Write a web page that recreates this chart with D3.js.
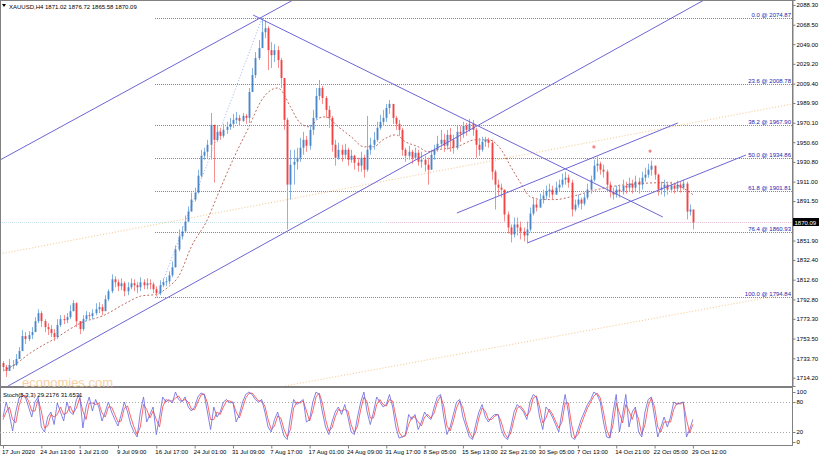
<!DOCTYPE html>
<html><head><meta charset="utf-8">
<script src="https://cdn.jsdelivr.net/npm/d3@7/dist/d3.min.js"></script>
<style>
html,body{margin:0;padding:0;background:#fff;}
svg{display:block;font-family:"Liberation Sans",Arial,sans-serif;}
</style></head>
<body><svg id="c" width="820" height="456"></svg>
<script>
// ---------- DATA ----------
const symbol = "XAUUSD,H4";
const lastBar = {open:1871.02, high:1876.72, low:1865.58, close:1870.09};
const firstOpen = 1729;
const closes = [
1725,1721,1727,1727,1733,1741,1756,1753,1757,1760,
1771,1779,1771,1765,1763,1759,1755,1767,1773,1772,
1775,1781,1789,1771,1763,1773,1777,1776,1779,1783,
1785,1781,1793,1801,1813,1810,1806,1809,1801,1805,
1809,1807,1805,1810,1807,1809,1808,1803,1799,1807,
1810,1811,1817,1825,1843,1856,1861,1871,1881,1893,
1900,1917,1937,1941,1948,1968,1953,1961,1957,1963,
1966,1969,1973,1975,1972,1977,1975,2001,2018,2035,
2045,2061,2065,2043,2038,2043,2033,2015,1973,1908,
1928,1931,1935,1945,1953,1947,1963,1975,1997,2005,
1995,1983,1975,1948,1935,1943,1938,1943,1933,1937,
1930,1927,1935,1923,1943,1948,1953,1965,1971,1975,
1985,1989,1975,1969,1963,1943,1937,1941,1935,1940,
1931,1933,1928,1923,1938,1943,1949,1953,1947,1958,
1953,1945,1961,1959,1967,1963,1969,1963,1948,1943,
1951,1953,1950,1921,1908,1905,1903,1878,1865,1858,
1868,1865,1861,1857,1863,1879,1888,1885,1893,1897,
1901,1903,1898,1905,1908,1913,1915,1910,1883,1888,
1893,1889,1895,1903,1913,1927,1929,1923,1921,1908,
1901,1898,1903,1901,1907,1905,1909,1905,1911,1908,
1915,1918,1923,1927,1918,1903,1905,1908,1903,1907,
1904,1908,1905,1909,1881,1883,1870.09];
const highs = [
1731,1727,1733,1732,1738,1745,1762,1760,1761,1765,
1775,1783,1781,1773,1769,1767,1763,1773,1777,1777,
1779,1787,1792,1790,1771,1777,1781,1780,1783,1789,
1790,1788,1797,1803,1818,1816,1813,1814,1811,1810,
1814,1813,1810,1815,1813,1814,1813,1810,1806,1812,
1814,1815,1821,1831,1847,1863,1866,1877,1886,1900,
1905,1923,1943,1945,1953,1980,1968,1967,1965,1969,
1971,1975,1979,1981,1978,1980,1979,2005,2025,2041,
2053,2075,2073,2067,2051,2049,2047,2035,2013,1975,
1943,1943,1945,1955,1961,1957,1968,1983,2005,2013,
2007,1997,1987,1977,1953,1950,1948,1949,1945,1943,
1938,1935,1941,1938,1977,1955,1961,1971,1978,1983,
1989,1993,1987,1977,1973,1965,1945,1947,1943,1945,
1943,1941,1937,1935,1943,1948,1957,1963,1959,1963,
1965,1958,1967,1967,1971,1970,1974,1973,1965,1955,
1956,1956,1955,1953,1923,1913,1909,1898,1881,1868,
1875,1875,1871,1865,1871,1885,1895,1893,1899,1903,
1907,1909,1907,1911,1913,1919,1921,1918,1913,1893,
1898,1895,1899,1909,1917,1933,1936,1931,1928,1923,
1911,1905,1907,1908,1913,1911,1915,1913,1917,1915,
1921,1925,1929,1932,1927,1919,1911,1913,1911,1911,
1910,1912,1911,1913,1911,1888,1878];
const lows = [
1721,1715,1721,1723,1726,1735,1743,1748,1751,1753,
1763,1769,1765,1760,1757,1755,1751,1753,1765,1768,
1769,1773,1781,1765,1758,1761,1771,1772,1773,1777,
1779,1777,1781,1791,1799,1805,1801,1802,1796,1797,
1803,1801,1799,1801,1803,1803,1803,1799,1796,1797,
1805,1806,1808,1815,1825,1841,1853,1861,1871,1881,
1891,1899,1915,1933,1935,1933,1910,1951,1953,1955,
1959,1963,1965,1969,1967,1971,1969,1970,2001,2015,
2033,2045,2055,2023,2025,2031,2025,2005,1963,1863,
1893,1908,1923,1931,1938,1941,1943,1958,1973,1993,
1989,1975,1965,1941,1927,1933,1931,1935,1927,1930,
1923,1921,1921,1915,1921,1938,1943,1951,1963,1967,
1971,1979,1969,1963,1957,1937,1931,1933,1929,1933,
1927,1925,1921,1908,1925,1933,1941,1945,1941,1943,
1941,1939,1943,1951,1955,1957,1961,1957,1935,1937,
1941,1946,1945,1913,1883,1897,1895,1871,1859,1850,
1855,1857,1853,1851,1850,1861,1877,1881,1885,1889,
1893,1895,1893,1899,1901,1905,1908,1905,1876,1881,
1885,1883,1887,1893,1899,1911,1921,1918,1915,1901,
1895,1893,1895,1895,1898,1899,1901,1899,1901,1899,
1903,1911,1915,1917,1913,1897,1898,1896,1898,1900,
1899,1901,1900,1903,1873,1877,1863];

// moving average (sampled along the chart)
const maIdx = [0,3,9,16,25,31,39,43,48,52,55,59,64,67,72,77,81,86,87,90,93,96,99,101,105,109,113,116,119,123,126,130,133,136,142,148,152,156,159,162,165,169,173,178,186,195,208,216];
const maVal = [1721,1726,1740,1753,1770,1776,1790,1796,1798,1806,1816,1846,1873,1896,1933,1966,1993,2005,2003,1986,1970,1966,1975,1976,1966,1956,1946,1946,1953,1958,1951,1946,1941,1943,1946,1953,1953,1943,1926,1910,1896,1893,1893,1896,1903,1908,1910,1898];

// stochastic
const stochMain = [
50,80,55,22,60,88,95,90,70,50, 80,90,30,20,50,60,35,78,60,42,
80,60,55,85,95,28,70,90,62,85, 70,42,60,80,60,45,32,55,80,60,
35,20,10,60,90,40,55,70,15,50, 90,80,85,78,100,85,80,90,70,62,
70,90,98,95,60,25,70,50,60,80, 85,78,80,40,55,80,95,100,95,85,
80,85,60,30,20,45,60,35,12,5, 50,85,75,80,85,40,45,80,100,95,
60,30,15,40,60,70,55,75,50,20, 15,50,80,100,60,35,60,90,80,70,
75,95,70,30,8,10,15,55,45,55, 25,40,60,50,45,70,90,95,50,15,
30,55,80,85,50,30,10,5,35,60, 75,50,40,50,55,55,25,10,5,30,
60,75,68,60,45,80,95,90,50,25, 70,62,50,35,20,60,95,60,10,5,
25,45,60,75,85,100,95,80,40,10, 8,60,95,20,55,95,30,60,70,20,
10,60,85,90,50,10,30,50,30,50, 80,75,78,80,10,25,45];
const stochSignal = [
45,60,70,45,38,72,92,93,82,62, 62,85,62,28,32,55,50,55,70,55,
58,72,58,68,88,62,45,78,78,75, 78,58,50,70,70,55,40,42,68,72,
50,30,15,30,75,65,48,62,45,30, 70,85,82,82,88,92,82,85,80,66,
65,80,94,96,78,45,45,60,55,70, 82,82,79,60,48,68,88,97,98,90,
82,82,72,45,25,32,52,48,25,10, 25,68,80,78,82,62,42,62,90,98,
78,45,22,28,50,65,62,65,62,35, 18,32,65,90,80,48,48,75,85,75,
72,85,82,50,20,10,12,35,50,50, 40,32,50,55,48,58,80,92,72,32,
22,42,68,82,68,40,20,8,20,48, 68,62,45,45,52,55,40,18,8,18,
45,68,72,64,52,62,88,92,70,38, 48,66,56,42,28,40,78,78,35,8,
15,35,52,68,80,92,98,88,60,25, 9,35,78,58,38,75,62,45,65,45,
15,35,72,88,70,30,20,40,40,40, 65,78,76,79,45,18,35];
const stochLabel = "Stoch(5,3,3) 29.2176 31.6531";
const stochLevels = [80,20];
const stochTicks = [100,80,20,0];

// axes
const priceTicks = [2088.30,2068.50,2049.00,2029.20,2009.40,1989.90,1970.10,1950.60,1930.80,1911.00,1891.50,1851.90,1832.40,1812.60,1792.80,1773.30,1753.50,1733.70,1714.20];
const timeTickIdx = [0,12,24,36,48,60,72,84,96,108,120,132,144,156,168,180,192,204,216];
const timeLabels = ["17 Jun 2020","24 Jun 13:00","1 Jul 21:00","9 Jul 09:00","16 Jul 17:00","24 Jul 01:00","31 Jul 09:00","7 Aug 17:00","17 Aug 01:00","24 Aug 09:00","31 Aug 17:00","8 Sep 05:00","15 Sep 13:00","22 Sep 21:00","30 Sep 05:00","7 Oct 13:00","14 Oct 21:00","22 Oct 05:00","29 Oct 12:00"];

// Fibonacci retracement (anchored low -> high)
const fibLevels = [0.0,23.6,38.2,50.0,61.8,76.4,100.0];
const fibPrices = [2074.87,2008.78,1967.90,1934.86,1901.81,1860.93,1794.84];
const fibStartIdx = 47.6;
const fibAnchor = [{i:48.2,p:1794.84},{i:81.1,p:2074.87}];

// trend lines (bar index, price)
const trendLines = [
  [{i:-1,p:1932.6},{i:91,p:2093.6}],
  [{i:1.6,p:1705.9},{i:219.5,p:2093.3}],
  [{i:78.3,p:2078.2},{i:206.6,p:1875.5}],
  [{i:142.1,p:1879.5},{i:211.3,p:1969.9}],
  [{i:164.1,p:1849.4},{i:232.6,p:1937.7}]
];
const orangeLines = [
  [{i:-1,p:1838.4},{i:247,p:1988.9}],
  [{i:88.3,p:1705.9},{i:247,p:1799.2}]
];
const markers = [{i:185,p:1945.8},{i:202.6,p:1941.7}];

// ---------- DRAW ----------
const svg = d3.select("#c");
const PR = 792, PB = 386, ST = 387.5, SB = 445.5;
const FS = 6;
const x = d3.scaleLinear().domain([0,216]).range([3,692.9]);
const y = d3.scaleLinear().domain([1705.9,2093.3]).range([PB,0]);
const ys = d3.scaleLinear().domain([0,100]).range([442,392]);

svg.append("rect").attr("width",820).attr("height",456).attr("fill","#fff");
const defs = svg.append("defs");
defs.append("clipPath").attr("id","clipMain").append("rect").attr("x",0).attr("y",0).attr("width",PR).attr("height",PB);
defs.append("clipPath").attr("id","clipSt").append("rect").attr("x",0).attr("y",ST).attr("width",PR).attr("height",SB-ST);

const main = svg.append("g").attr("clip-path","url(#clipMain)");

// fib lines
fibPrices.forEach((p,k)=>{
  const yy = Math.round(y(p))+0.5;
  main.append("line").attr("x1",x(fibStartIdx)).attr("x2",PR).attr("y1",yy).attr("y2",yy)
    .attr("stroke","#7c7cd6").attr("stroke-width",1).attr("stroke-dasharray","1,1");
  main.append("text").attr("x",PR-1).attr("y",yy-1.5).attr("text-anchor","end")
    .attr("font-size",FS).attr("fill","#2424b0")
    .text(fibLevels[k].toFixed(1)+" @ "+p.toFixed(2));
});
// fib anchor dotted line
main.append("line").attr("x1",x(fibAnchor[0].i)).attr("y1",y(fibAnchor[0].p))
  .attr("x2",x(fibAnchor[1].i)).attr("y2",y(fibAnchor[1].p))
  .attr("stroke","#9db3ea").attr("stroke-width",1).attr("stroke-dasharray","1,2");

// current price line
const cy = Math.round(y(lastBar.close))+0.5;
main.append("line").attr("x1",0).attr("x2",PR).attr("y1",cy).attr("y2",cy)
  .attr("stroke","#c9e4ec").attr("stroke-width",1).attr("stroke-dasharray","1,1");
main.append("line").attr("x1",x(120)).attr("x2",PR).attr("y1",cy).attr("y2",cy)
  .attr("stroke","#f2c2d4").attr("stroke-width",1).attr("stroke-dasharray","1,1");

// orange lines
orangeLines.forEach(l=>{
  main.append("line").attr("x1",x(l[0].i)).attr("y1",y(l[0].p)).attr("x2",x(l[1].i)).attr("y2",y(l[1].p))
    .attr("stroke","#f6b968").attr("stroke-width",1).attr("stroke-dasharray","1,2").attr("opacity",0.8);
});

// moving average
const maLine = d3.line().x((d,k)=>x(maIdx[k])).y(d=>y(d)).curve(d3.curveMonotoneX);
main.append("path").attr("d",maLine(maVal)).attr("fill","none")
  .attr("stroke","#b0544a").attr("stroke-width",1).attr("stroke-dasharray","2,2").attr("opacity",0.85);

// candles
const candles = closes.map((c,k)=>({i:k,o:k?closes[k-1]:firstOpen,h:highs[k],l:lows[k],c:c}));
const cg = main.append("g");
candles.forEach(d=>{
  const bull = d.c>=d.o;
  const col = bull ? "#3a7cc4" : "#f23030";
  const wcol = bull ? "#86b4e2" : "#f69090";
  const xx = Math.round(x(d.i))+0.5;
  const hi = Math.max(d.h,d.o,d.c), lo = Math.min(d.l,d.o,d.c);
  cg.append("line").attr("x1",xx).attr("x2",xx).attr("y1",y(hi)).attr("y2",y(lo))
    .attr("stroke",wcol).attr("stroke-width",1);
  const top = y(Math.max(d.o,d.c)), h = Math.max(1,Math.abs(y(d.o)-y(d.c)));
  cg.append("rect").attr("x",xx-1).attr("y",top).attr("width",2).attr("height",h)
    .attr("fill",col).attr("opacity",0.8);
});

// trend lines
trendLines.forEach(l=>{
  main.append("line").attr("x1",x(l[0].i)).attr("y1",y(l[0].p)).attr("x2",x(l[1].i)).attr("y2",y(l[1].p))
    .attr("stroke","#6c66d4").attr("stroke-width",1);
});

// markers
markers.forEach(m=>{
  main.append("circle").attr("cx",x(m.i)).attr("cy",y(m.p)).attr("r",1.6).attr("fill","#f07070").attr("opacity",0.85);
});

// header
svg.append("path").attr("d","M2,4 L6,4 L4,7 Z").attr("fill","#000");
svg.append("text").attr("x",9).attr("y",8.5).attr("font-size",FS).attr("fill","#000")
  .text(symbol+"  "+[lastBar.open,lastBar.high,lastBar.low,lastBar.close].map(v=>v.toFixed(2)).join(" "));

// frames
svg.append("rect").attr("x",0.5).attr("y",0.5).attr("width",PR).attr("height",PB).attr("fill","none").attr("stroke","#808080");
svg.append("rect").attr("x",0.5).attr("y",ST).attr("width",PR).attr("height",SB-ST).attr("fill","none").attr("stroke","#808080");

// price axis
const pa = svg.append("g").attr("transform",`translate(${PR+0.5},0)`)
  .call(d3.axisRight(y).tickValues(priceTicks).tickSize(3).tickPadding(1).tickFormat(d3.format(".2f")));
pa.select(".domain").attr("stroke","#808080");
pa.selectAll(".tick line").attr("stroke","#808080");
pa.selectAll("text").attr("font-size",FS).attr("font-family","Liberation Sans, Arial").attr("fill","#000");

// current price box
svg.append("rect").attr("x",PR+1).attr("y",cy-4.5).attr("width",26).attr("height",8).attr("fill","#000");
svg.append("text").attr("x",PR+2.5).attr("y",cy+2).attr("font-size",FS).attr("fill","#fff").text(lastBar.close.toFixed(2));

// stochastic panel
const sg = svg.append("g").attr("clip-path","url(#clipSt)");
stochLevels.forEach(v=>{
  sg.append("line").attr("x1",0).attr("x2",PR).attr("y1",Math.round(ys(v))+0.5).attr("y2",Math.round(ys(v))+0.5)
    .attr("stroke","#a8a8a8").attr("stroke-dasharray","1,2");
});
const sLine = d3.line().x((d,k)=>x(k)).y(d=>ys(d));
sg.append("path").attr("d",sLine(stochSignal)).attr("fill","none").attr("stroke","#ff4a4a").attr("stroke-width",1).attr("opacity",0.85);
sg.append("path").attr("d",sLine(stochMain)).attr("fill","none").attr("stroke","#6e6ee0").attr("stroke-width",1).attr("opacity",0.85);

// watermark (sits above the indicator label)
svg.append("text").attr("x",22).attr("y",387).attr("font-size",13).attr("fill","#f6c690").attr("opacity",0.8).text("economies.com");
svg.append("text").attr("x",3).attr("y",396.5).attr("font-size",FS).attr("fill","#000").text(stochLabel);

const sa = svg.append("g").attr("transform",`translate(${PR+0.5},0)`)
  .call(d3.axisRight(ys).tickValues(stochTicks).tickSize(3).tickPadding(1));
sa.select(".domain").attr("stroke","none");
sa.selectAll(".tick line").attr("stroke","#808080");
sa.selectAll("text").attr("font-size",FS).attr("font-family","Liberation Sans, Arial").attr("fill","#000");

// time axis
const ta = svg.append("g").attr("transform",`translate(0,${SB})`)
  .call(d3.axisBottom(x).tickValues(timeTickIdx).tickSize(3).tickPadding(1).tickFormat((d,k)=>timeLabels[k]));
ta.select(".domain").attr("stroke","none");
ta.selectAll(".tick line").attr("stroke","#808080");
ta.selectAll("text").attr("font-size",FS).attr("font-family","Liberation Sans, Arial").attr("fill","#000")
  .attr("text-anchor","start").attr("dx",-1.5);
</script>
</body></html>
